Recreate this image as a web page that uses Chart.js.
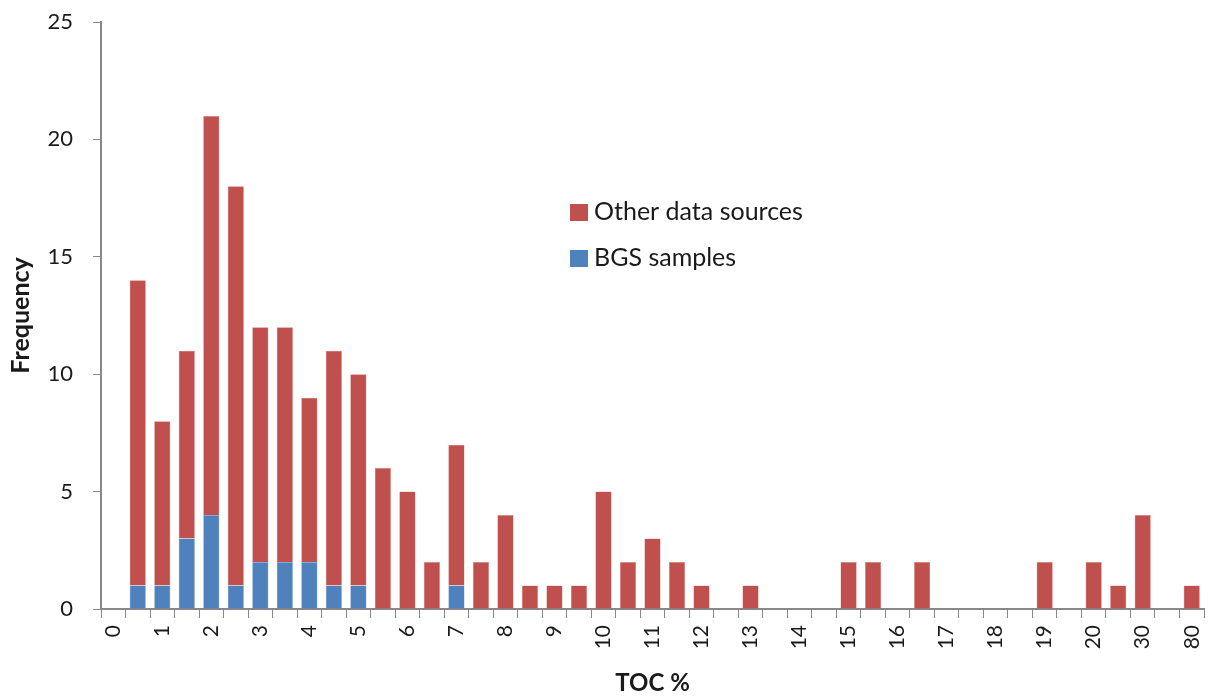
<!DOCTYPE html>
<html>
<head>
<meta charset="utf-8">
<script src="https://cdn.jsdelivr.net/npm/chart.js@4/dist/chart.umd.min.js"></script>
<style>
  html, body { margin: 0; padding: 0; background: #fff; }
  #wrap { width: 1210px; height: 698px; }
</style>
</head>
<body>
<div id="wrap"><canvas id="toc"></canvas></div>
<script>
// TOC bins: label every whole number, half-way bins left blank
var binLabels = ["0","","1","","2","","3","","4","","5","","6","","7","","8","","9","",
  "10","","11","","12","","13","","14","","15","","16","","17","","18","","19","","20","","30","","80"];
var bgsSamples = [0,1,1,3,4,1,2,2,2,1,1,0,0,0,1,0,0,0,0,0,
  0,0,0,0,0,0,0,0,0,0,0,0,0,0,0,0,0,0,0,0,0,0,0,0,0];
var otherSources = [0,13,7,8,17,17,10,10,7,10,9,6,5,2,6,2,4,1,1,1,
  5,2,3,2,1,0,1,0,0,0,2,2,0,2,0,0,0,0,2,0,2,1,4,0,1];
var yTicks = [0,5,10,15,20,25];

var FONT = "Lato, 'Open Sans', sans-serif";

// legend drawn inside the plot area, like the original
var innerLegend = {
  id: 'innerLegend',
  afterDraw: function(chart) {
    var ctx = chart.ctx;
    var items = [chart.data.datasets[1], chart.data.datasets[0]];
    ctx.save();
    ctx.font = "25px " + FONT;
    ctx.textBaseline = "middle";
    items.forEach(function(ds, i) {
      var y = 212 + i * 46;
      ctx.fillStyle = ds.backgroundColor;
      ctx.fillRect(570, y - 8, 18, 17);
      ctx.fillStyle = "#1a1a1a";
      ctx.fillText(ds.label, 594, y);
    });
    ctx.restore();
  }
};

var ctx = document.getElementById("toc").getContext("2d");
var chart = new Chart(ctx, {
  type: 'bar',
  data: {
    labels: binLabels,
    datasets: [{
      label: "BGS samples",
      data: bgsSamples,
      backgroundColor: "#4F81BD",
      borderColor: "#7FA3D0",
      borderWidth: 0.5
    }, {
      label: "Other data sources",
      data: otherSources,
      backgroundColor: "#C0504D",
      borderColor: "#D98A88",
      borderWidth: 0.5
    }]
  },
  options: {
    responsive: true,
    maintainAspectRatio: false,
    animation: false,
    datasets: { bar: { categoryPercentage: 1, barPercentage: 0.66 } },
    layout: { padding: { top: 22, right: 6, left: 0, bottom: 0 } },
    plugins: {
      legend: { display: false },
      tooltip: { enabled: false }
    },
    scales: {
      x: {
        stacked: true,
        offset: true,
        grid: { offset: true, drawOnChartArea: false, tickLength: 9, color: "#888" },
        border: { color: "#888", width: 2 },
        ticks: {
          autoSkip: false, maxRotation: 90, minRotation: 90,
          color: "#1a1a1a", font: { family: FONT, size: 21 }, padding: 7
        },
        title: { display: true, text: "TOC %", color: "#1a1a1a",
          font: { family: FONT, size: 24, weight: "bold" }, padding: { top: 0, bottom: 0 } },
        afterFit: function(scale) { scale.height = 89; scale.paddingRight = 0; }
      },
      y: {
        stacked: true,
        min: 0, max: 25,
        afterBuildTicks: function(scale) {
          scale.ticks = yTicks.map(function(v) { return { value: v }; });
        },
        grid: { drawOnChartArea: false, tickLength: 8, color: "#888" },
        border: { color: "#888", width: 2 },
        ticks: { color: "#1a1a1a", font: { family: FONT, size: 22 }, padding: 20 },
        title: { display: true, text: "Frequency", color: "#1a1a1a",
          font: { family: FONT, size: 25, weight: "bold" }, padding: { top: 6, bottom: 0 } },
        afterFit: function(scale) { scale.width = 101; scale.paddingTop = 0; scale.paddingBottom = 0; }
      }
    }
  },
  plugins: [innerLegend]
});
</script>
</body>
</html>
